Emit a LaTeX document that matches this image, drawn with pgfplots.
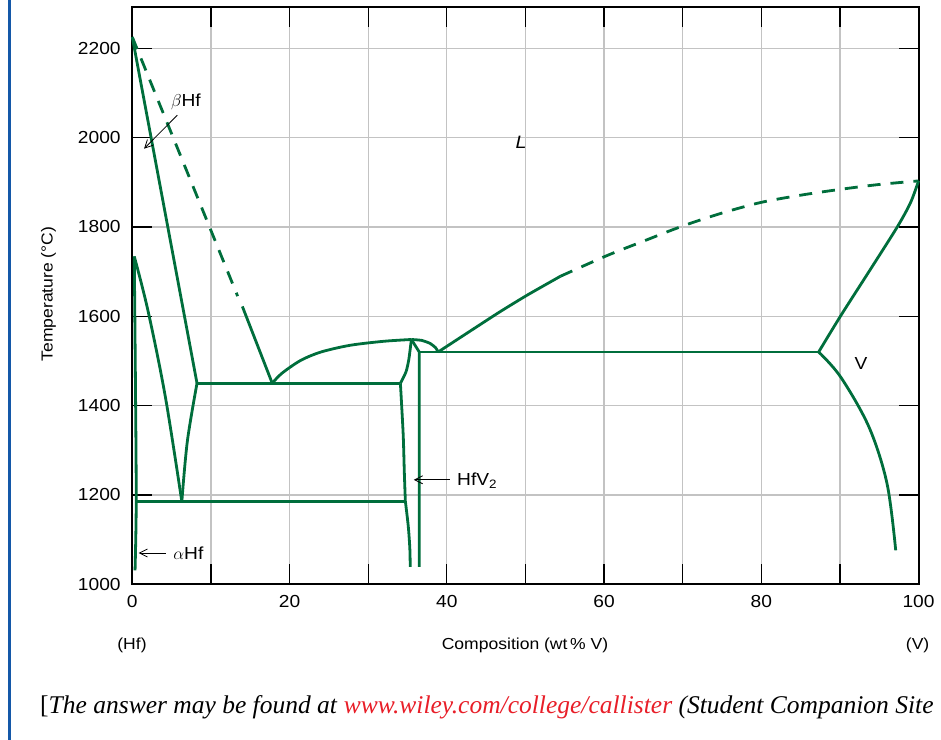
\documentclass[border=0pt]{standalone}
\usepackage{fontspec}
\setmainfont[FakeStretch=1.1]{Liberation Sans}
\newfontfamily\capfont{Liberation Serif}
\usepackage{pgfplots}
\pgfplotsset{compat=1.18}
\usetikzlibrary{arrows.meta}
\definecolor{pgreen}{RGB}{0,110,60}
\definecolor{pblue}{RGB}{20,88,168}
\definecolor{pred}{RGB}{232,30,40}
\definecolor{pgrid}{RGB}{195,195,195}
\pgfplotsset{phase/.style={pgreen, line width=2.8bp, line join=round, no markers},
  dsh/.style={dash pattern=on 13bp off 10bp}}
\begin{document}
\begin{tikzpicture}[x=1bp,y=1bp]
\path[use as bounding box] (0,0) rectangle (941,740);
\draw[pblue, line width=2.7bp] (9.7,0) -- (9.7,740);
\begin{axis}[
  at={(132.3bp,155.7bp)}, anchor=south west,
  scale only axis, width=786.2bp, height=577.6bp,
  xmin=0, xmax=100, ymin=1000, ymax=2293,
  xtick={0,10,...,100}, xticklabels={0,,20,,40,,60,,80,,100},
  ytick={1000,1200,...,2200},
  tick align=inside, major tick length=20bp,
  grid=major, grid style={pgrid, line width=1.3bp},
  axis line style={black, line width=2bp},
  every tick/.style={black, line width=1.3bp},
  tick label style={font=\fontsize{17.5}{20}\selectfont, inner sep=0pt},
  xticklabel style={yshift=-11bp},
  yticklabel style={xshift=-11.5bp},
  /pgf/number format/assume math mode=true,
  /pgf/number format/1000 sep={},
  clip=false,
]
% beta Hf solidus
\addplot[phase] coordinates {(0,2225) (8.23,1450)};
% left liquidus dashed + solid
\addplot[phase, dsh] coordinates {(0,2225) (13.4,1645)};
\addplot[phase] coordinates {(14.0,1622) (17.8,1450)};
% alpha/beta transus
\addplot[phase, smooth, tension=0.55] coordinates {(0.25,1734) (2.0,1612) (4.2,1420) (6.3,1185)};
\addplot[phase, smooth, tension=0.55] coordinates {(6.3,1185) (7.0,1320) (8.23,1450)};
% alpha Hf solvus
\addplot[phase, smooth, tension=0.5] coordinates {(0.25,1734) (0.4,1450) (0.5,1185) (0.35,1031)};
% eutectoid and eutectic
\addplot[phase] coordinates {(0.5,1185) (34.73,1185)};
\addplot[phase] coordinates {(8.23,1450) (34.1,1450)};
% left liquidus to HfV2 maximum
\addplot[phase, smooth, tension=0.5] coordinates {(17.8,1450) (19,1472) (21.4,1501) (24,1520) (27.7,1535) (32,1544) (35.5,1548)};
% HfV2 left boundary
\addplot[phase, smooth, tension=0.5] coordinates {(35.5,1548) (35.3,1520) (35.15,1501) (34.8,1475) (34.1,1450)};
\addplot[phase, smooth, tension=0.5] coordinates {(34.1,1450) (34.45,1337) (34.6,1250) (34.73,1186)};
\addplot[phase, smooth, tension=0.5] coordinates {(34.73,1186) (35.1,1130) (35.3,1080) (35.35,1039)};
% HfV2 right boundary
\addplot[phase] coordinates {(35.5,1548) (36.5,1520) (36.5,1039)};
% arc to eutectic
\addplot[phase, smooth, tension=0.4] coordinates {(35.5,1548) (36.8,1546) (37.9,1539) (38.6,1529) (38.9,1520)};
% eutectic 1520
\addplot[phase] coordinates {(36.5,1520) (87.3,1520)};
% right liquidus
\addplot[phase, smooth, tension=0.3] coordinates {(38.9,1520) (46.4,1606) (50.2,1647) (54.45,1689.5)};
\addplot[phase, dsh, smooth, tension=0.5] coordinates {(54.45,1689.5) (60.4,1736) (65,1768) (70,1802) (75,1831) (80,1855) (85,1871) (90,1884) (95,1895) (100,1903)};
% V solidus
\addplot[phase, smooth, tension=0.5] coordinates {(87.3,1520) (90.1,1601) (93.7,1700) (97.3,1800) (99,1855) (100,1903)};
% V solvus
\addplot[phase, smooth, tension=0.55] coordinates {(87.3,1520) (90.1,1464) (93.7,1352) (96.0,1225) (97.1,1076)};
% annotations
\node[font=\fontsize{17.5}{20}\selectfont] at (axis cs:6.83,2079) {$\beta$Hf};
\draw[black, line width=0.8bp, -{Straight Barb[length=8bp,width=8bp]}] (axis cs:5.72,2050) -- (axis cs:1.49,1975);
\node[font=\fontsize{18}{20}\selectfont\itshape] at (axis cs:49.45,1989) {L};
\node[font=\fontsize{17.5}{20}\selectfont] at (axis cs:92.7,1495) {V};
\node[anchor=west, inner sep=0pt, font=\fontsize{17.5}{20}\selectfont] at (axis cs:41.3,1232) {HfV\textsubscript{2}};
\draw[black, line width=0.8bp, -{Straight Barb[length=8bp,width=8bp]}] (axis cs:40.4,1234) -- (axis cs:35.8,1234);
\node[anchor=west, inner sep=0pt, font=\fontsize{17.5}{20}\selectfont] at (axis cs:5.2,1070) {$\alpha$Hf};
\draw[black, line width=0.8bp, -{Straight Barb[length=8bp,width=8bp]}] (axis cs:4.26,1070) -- (axis cs:0.8,1070);
\end{axis}
\node[font=\fontsize{16}{19}\selectfont] at (525,95) {Composition (wt\,\% V)};
\node[font=\fontsize{16}{19}\selectfont] at (132,95) {(Hf)};
\node[font=\fontsize{16}{19}\selectfont] at (917.6,95) {(V)};
\node[rotate=90, font=\fontsize{16}{19}\selectfont] at (48.5,446) {Temperature (°C)};
\node[anchor=base west, inner sep=0pt, font=\capfont\fontsize{25.6}{30}\selectfont] at (40,26) {[\textit{The answer may be found at} \textcolor{pred}{\textit{www.wiley.com/college/callister}} \textit{(Student Companion Site}};
\end{tikzpicture}
\end{document}
